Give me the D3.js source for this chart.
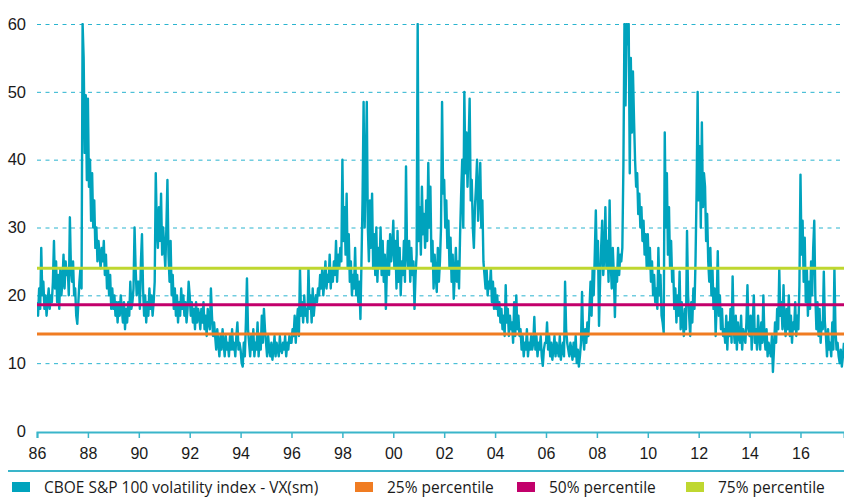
<!DOCTYPE html>
<html>
<head>
<meta charset="utf-8">
<script src="https://cdn.jsdelivr.net/npm/d3@7"></script>
<style>
  body { margin: 0; background: #fff; }
  svg { display: block; font-family: "Open Sans", "Noto Sans", sans-serif; }
</style>
</head>
<body>
<div id="chart"></div>
<script>
// VX(sm), two readings per month starting Jan 1986
const startYear = 1986;
const perYear = 24;
const vxValues = [
  19,17,21,18,27,20,22,18,20,17,19,21,18,20,19,22,28,21,25,19,23,18,24,20,           // 86
  22,26,21,25,23,24,20,31.5,24,22,25,20,21,17,15.8,19,22,24,21,60,55,41,49.5,37,     // 87
  49,36,40,31,38,30,34,27,30,25,28,26,24,27,25,28,23,26,21,24,20,23,18,21,           // 88
  18,20,17,19,16,19,17,20,18,16,19,15,18,16,19,17,22,18,19,21,30,24,20,22,           // 89
  22,18,25,29,21,17,20,16,19,17,21,18,20,17,19,22,38,30,27,33,28,35,26,30,           // 90
  27,24,30,37,26,22,28,20,23,18,21,17,20,16,19,17,21,18,20,17,19,16,18,22,           // 91
  20,17,19,16,18,15,19,16,18,17,15,18,16,19,15,17,14,18,16,15,21,17,14,16,           // 92
  14,12,15,13,11,14,12,15,13,11,14,12,13,11,14,12,15,12,13,11,14,16,12,13,           // 93
  12,10,9.5,13,11,16,22.5,15,13,11,14,12,15,11,13,12,16,11,14,12,17,13,18,15,        // 94
  13,11,14,12,11,13,10.5,12,14,11,13,12,11,14,12,11.5,13,12,14,11,13,12,14,13,       // 95
  13,15,14,17,13,16,18,14,24,17,19,16,20,17,18,16,24,18,20,16,21,17,19,20,           // 96
  19,21,20,23,21,24,20,22,25,21,23,22,26,21,24,22,25,23,28,22,26,24,27,25,           // 97
  40,28,33,26,35,24,29,22,25,20,23,21,27,20,23,19,22,16.5,25,34,48.5,30,38,48.5,     // 98
  30,25,34,27,35,24,29,23,30,22,27,24,30,23,28,22,26,18,24,28,23,29,25,27,           // 99
  31,24,28,21,29.5,22,27,20,25,23,28,22,39,26,24,28,22,27,23,25,18,23,26,60,         // 00
  28,33,26,36,29,32,27,34,28,39.5,30,36,25,28,21,26,23,20.5,27,22,25,30,48.5,35,     // 01
  37,30,34,27,31,24,28.5,22,26,19.5,23,27,22,25,21,29,35,40,30,50,38,44,36,42,       // 02
  49,34,37,30,27,33,36,40,31,35,39.5,30,34,25,23,21,24,20,22,21,24,19,22,18,         // 03
  21,18,20,17,19,16,18,15,17,14,21.5,16,18,14,17,15,16,13,19,14,20,15,17,14,         // 04
  15,12,14,11,13,12,15,11,13,12,14,12,13,16.8,12,14,11,13,12,14,11,9.6,12,13,        // 05
  13,16,12,14,11,13,10.5,12,14,11,13,12,11,14,10.5,12,13,11,22,15,13,12,11,13,       // 06
  12,10.5,13,11,14,10,12,9.5,11,13,20.5,14,12,15,13,16,14,18,22,17,24,20,26,32.5,    // 07
  24,28,15.5,22,27,31,23,26,33,24,28,22,34,25,21,27,23,16.8,24,22,27,23,26,25,       // 08
  27,39,60,48,60,57,60,38,55,44,53,46,40,36,38,32,35,30,33,28,31,26,29,24,           // 09
  29,24,27,22,25,20,23,19,21,18,27,20,23,17,16,14.5,44,30,38,26,33,24,28,22,         // 10
  24,18,21,16,20,17,23.5,15,19,16,14,18,15,29.5,20,17,14,19,16,21,18,25,35,50,       // 11
  34,42,30,45.5,33,38,36,28,32,25,22,27,20,24,18,21,14,19,26.5,17,20,15,18,14,       // 12
  15,13,17,12,16,14,18,13,22.8,15,13,17,12,16,14,13,17,12,15,14,13,16,21.5,15,       // 13
  14,17,12,16,20,13,15,12,17,14,12,16,13,20,14,12,15,11,13,12,11,14,8.7,12,          // 14
  16,13,18,15,23.8,17,19,15,21.5,16,14,18,15,20,14,17,13,16,15,19,14,17,15,21.5,     // 15
  37.8,26,31,22,28.5,19,24,17,22,18,25,20,27,31,20,15,19,14,18,13,16,15,23.5,16,     // 16
  14,11,15,12,13,11,16,12,24,15,12,13,11,10,12,9.5,11,13                             // 17
];

const percentileValues = [14.3, 18.6, 24.0];
const percentileColors = ["#f07c22", "#c2006b", "#bfd730"];
const yTicks = [0, 10, 20, 30, 40, 50, 60];
const xTickYears = d3.range(1986, 2017, 2);
const legendLabels = ["CBOE S&P 100 volatility index - VX(sm)", "25% percentile", "50% percentile", "75% percentile"];
const legendColors = ["#00a3bd", "#f07c22", "#c2006b", "#bfd730"];

const width = 844, height = 498;
const m = { left: 37, right: 844, top: 24, bottom: 431 };
const teal = "#00a3bd";

const data = vxValues.map((v, i) => ({ t: startYear + i / perYear, v }));

const x = d3.scaleLinear().domain([1986, 2017.71]).range([m.left, m.right]);
const y = d3.scaleLinear().domain([0, 60]).range([m.bottom, m.top]);

const svg = d3.select("#chart").append("svg")
  .attr("width", width).attr("height", height);

svg.append("defs").append("clipPath").attr("id", "plot")
  .append("rect").attr("x", m.left).attr("y", m.top - 1)
  .attr("width", m.right - m.left).attr("height", m.bottom - m.top + 1);

// dashed gridlines
svg.append("g")
  .attr("transform", `translate(${m.left},0)`)
  .call(d3.axisRight(y).tickValues(yTicks.slice(1)).tickSize(m.right - m.left).tickFormat(""))
  .call(g => g.select(".domain").remove())
  .call(g => g.selectAll("line")
    .attr("stroke", "#2ab4cf").attr("stroke-width", 1).attr("stroke-dasharray", "4,4.5"));

// y labels
svg.append("g")
  .attr("transform", `translate(${m.left - 8},0)`)
  .call(d3.axisLeft(y).tickValues(yTicks).tickSize(0))
  .call(g => g.select(".domain").remove())
  .call(g => g.selectAll("text")
    .attr("font-size", 16.5).attr("fill", "#1a1a1a").attr("font-family", null));

// series
const line = d3.line().x(d => x(d.t)).y(d => y(d.v));
svg.append("path")
  .datum(data)
  .attr("clip-path", "url(#plot)")
  .attr("fill", "none")
  .attr("stroke", teal)
  .attr("stroke-width", 2.4)
  .attr("stroke-linejoin", "round")
  .attr("d", line);

// percentile levels
svg.append("g").selectAll("line")
  .data(percentileValues)
  .join("line")
  .attr("x1", m.left).attr("x2", m.right)
  .attr("y1", d => y(d)).attr("y2", d => y(d))
  .attr("stroke", (d, i) => percentileColors[i])
  .attr("stroke-width", 3);

// x axis
svg.append("g")
  .attr("transform", `translate(0,${m.bottom + 1})`)
  .call(d3.axisBottom(x).tickValues(xTickYears).tickSize(6).tickPadding(10)
    .tickFormat(d => d3.format("02d")(d % 100)))
  .call(g => g.select(".domain").attr("stroke", "#3ab5ca").attr("stroke-width", 2))
  .call(g => g.selectAll(".tick line").attr("stroke", "#3ab5ca").attr("stroke-width", 1.5))
  .call(g => g.selectAll("text")
    .attr("font-size", 16).attr("fill", "#1a1a1a").attr("font-family", null));

// legend separator
svg.append("line")
  .attr("x1", 8).attr("x2", m.right).attr("y1", 471).attr("y2", 471)
  .attr("stroke", "#3ab5ca").attr("stroke-width", 2);

const legendX = [12, 355, 517, 686];
const legend = svg.append("g").selectAll("g")
  .data(legendLabels)
  .join("g")
  .attr("transform", (d, i) => `translate(${legendX[i]},482)`);
legend.append("rect")
  .attr("width", 18).attr("height", 10)
  .attr("fill", (d, i) => legendColors[i]);
legend.append("text")
  .attr("x", 32).attr("y", 11)
  .attr("font-size", 15.5).attr("fill", "#1a1a1a")
  .text(d => d);
</script>
</body>
</html>
